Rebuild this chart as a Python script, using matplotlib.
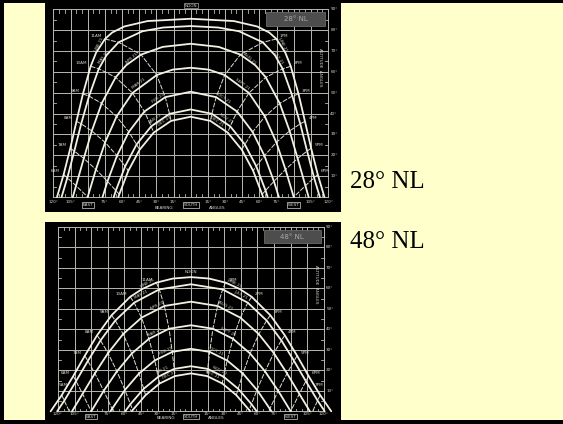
import matplotlib
matplotlib.use('Agg')
import matplotlib.pyplot as plt
import numpy as np
from matplotlib.patches import Rectangle

# date curves, outermost (summer) first
dates_am = ['JUNE 21', 'MAY 21', 'APR 21', 'MAR 21', 'FEB 21', 'JAN 21', 'DEC 21']
dates_pm = ['JUNE 21', 'JULY 21', 'AUG 21', 'SEPT 21', 'OCT 21', 'NOV 21', 'DEC 21']
am_labels = ['NOON', '11AM', '10AM', '9AM', '8AM', '7AM', '6AM', '5AM']
pm_labels = ['NOON', '1PM', '2PM', '3PM', '4PM', '5PM', '6PM', '7PM']

bear_ticks = [-120, -105, -90, -75, -60, -45, -30, -15, 0, 15, 30, 45, 60, 75, 90, 105, 120]
bear_tick_labels = ['120°', '105°', 'EAST', '75°', '60°', '45°', '30°', '15°', 'SOUTH',
                    '15°', '30°', '45°', '60°', '75°', 'WEST', '105°', '120°']
alt_ticks = [10, 20, 30, 40, 50, 60, 70, 80, 90]

# 28 deg NL chart. bearing from south / altitude of the sun
# at every full hour before noon (noon, 11, 10 ... 6AM); afternoon is the mirror
bear_28 = [
    [0, 74.9, 87.4, 94.2, 99.8, 105.2, 111.0],
    [0, 63.0, 80.3, 88.8, 95.7, 101.7, 107.8],
    [0, 43.4, 65.6, 77.8, 86.4, 93.4, 100.2],
    [0, 29.7, 50.9, 64.8, 74.8, 82.8, 90.0],
    [0, 22.2, 40.5, 54.1, 64.4, 72.7, None],
    [0, 18.5, 34.5, 47.3, 57.3, 65.4, None],
    [0, 17.2, 32.3, 44.6, 54.5, 62.4, None],
]
alt_28 = [
    [85.5, 75.8, 62.7, 49.4, 36.3, 23.4, 10.8],
    [82.0, 74.2, 61.5, 48.4, 35.1, 22.0, 9.2],
    [73.5, 68.3, 57.4, 44.9, 31.7, 18.5, 5.4],
    [62.0, 58.5, 49.9, 38.6, 26.2, 13.2, 0.0],
    [50.5, 47.9, 41.0, 31.2, 19.8, 7.5, None],
    [42.0, 39.9, 33.9, 25.2, 14.7, 3.1, None],
    [38.5, 36.5, 30.9, 22.7, 12.6, 1.3, None],
]
rise_28 = [116.8, 112.8, 103.0, 90.0, 77.0, 67.2, 63.2]
# extra points on the flat tops of the summer curves
extra_28 = [
    [(37.7, 84.4), (58.0, 81.8), (68.6, 78.9), (82.6, 69.3)],
    [(24.0, 81.3), (42.2, 79.5), (73.6, 68.0)],
    [(24.5, 72.0), (56.4, 63.2)],
    [(15.7, 61.1)],
    [], [], [],
]
ends_28 = {}

# 48 deg NL chart (noon ... 5AM)
bear_48 = [
    [0, 31.2, 54.8, 71.6, 84.7, 95.8, 106.2, 116.6],
    [0, 28.6, 51.3, 68.3, 81.6, 93.0, 103.7, 114.3],
    [0, 24.0, 44.6, 61.2, 74.8, 86.7, 97.8, None],
    [0, 19.8, 37.9, 53.4, 66.8, 78.7, 90.0, None],
    [0, 16.9, 32.7, 46.9, 59.6, 71.2, None, None],
    [0, 15.1, 29.4, 42.6, 54.6, None, None, None],
    [0, 14.4, 28.2, 40.9, 52.6, None, None, None],
]
alt_48 = [
    [65.5, 62.8, 55.9, 46.9, 37.1, 27.1, 17.2, 7.9],
    [62.0, 59.5, 53.0, 44.3, 34.6, 24.6, 14.7, 5.2],
    [53.5, 51.4, 45.7, 37.7, 28.4, 18.5, 8.5, None],
    [42.0, 40.3, 35.4, 28.2, 19.5, 10.0, 0.0, None],
    [30.5, 29.0, 24.8, 18.4, 10.4, 1.2, None, None],
    [22.0, 20.7, 16.9, 11.0, 3.5, None, None, None],
    [18.5, 17.2, 13.6, 7.9, 0.6, None, None, None],
]
rise_48 = [126.6, 120.7, 107.3, 90.0, 72.7, 59.3, 53.4]
extra_48 = [
    [(16.3, 64.8), (44.0, 59.7)],
    [], [], [], [], [], [],
]
ends_48 = {5: 70.2, 7: 109.8}

grid_c = '#b8b8b0'
curve_c = '#f4f1e4'
text_c = '#d6d6d0'
small = dict(fontsize=3.0, color=text_c, family='DejaVu Sans')


def draw_chart(ax, bear, alt, rise, extra, ends, tag, noon_alt, boxed_noon, lab_y):
    ax.set_facecolor('black')
    for sp in ax.spines.values():
        sp.set_visible(False)
    ax.set_xticks([])
    ax.set_yticks([])

    # grid
    for b in range(-120, 121, 15):
        ax.plot([b, b], [0, 90], color=grid_c, lw=0.7, zorder=1)
    for a in range(0, 91, 10):
        ax.plot([-120, 120], [a, a], color=grid_c, lw=0.7, zorder=1)
    for b in range(-120, 121, 5):
        ax.plot([b, b], [90, 88.3], color=grid_c, lw=0.6)
        ax.plot([b, b], [0, 1.2], color=grid_c, lw=0.6)
    for a in range(5, 90, 10):
        ax.plot([-120, -117.5], [a, a], color=grid_c, lw=0.6)
        ax.plot([120, 117.5], [a, a], color=grid_c, lw=0.6)

    # date curves
    for d in range(len(bear)):
        pts = [(b, a) for b, a in zip(bear[d], alt[d]) if b is not None]
        pts += extra[d] + [(rise[d], 0.0)]
        pts.sort()
        xs = [-p[0] for p in pts[::-1]] + [p[0] for p in pts[1:]]
        ys = [p[1] for p in pts[::-1]] + [p[1] for p in pts[1:]]
        ax.plot(xs, ys, color=curve_c, lw=1.3, zorder=3, solid_capstyle='round')

        # small date names along the curve between 10 and 11, staggered
        p1 = ax.transData.transform((-bear[d][2], alt[d][2]))
        p2 = ax.transData.transform((-bear[d][1], alt[d][1]))
        ang = np.degrees(np.arctan2(p2[1] - p1[1], p2[0] - p1[0]))
        t = 0.3 if d % 2 == 0 else 0.68
        mx = bear[d][1] + t * (bear[d][2] - bear[d][1])
        my = alt[d][1] + t * (alt[d][2] - alt[d][1])
        ax.text(-mx, my + 0.8, dates_am[d], rotation=ang, ha='center', va='bottom',
                rotation_mode='anchor', zorder=4, **small)
        ax.text(mx, my + 0.8, dates_pm[d], rotation=-ang, ha='center', va='bottom',
                rotation_mode='anchor', zorder=4, **small)

    # hour lines
    for h in range(1, len(bear[0])):
        pts = [(bear[d][h], alt[d][h]) for d in range(len(bear)) if bear[d][h] is not None]
        if h in ends:
            pts.append((ends[h], 0.0))
        if len(pts) < 2:
            continue
        xs = [p[0] for p in pts]
        ys = [p[1] for p in pts]
        ax.plot([-x for x in xs], ys, color='#deded8', lw=0.7, ls=(0, (5, 1.5)), zorder=2)
        ax.plot(xs, ys, color='#deded8', lw=0.7, ls=(0, (5, 1.5)), zorder=2)
        if xs[0] > 112:
            # outermost line: label above its top end, clear of the altitude scale
            ax.text(-xs[0] + 1, ys[0] + 5, am_labels[h], ha='center', va='center', **small)
            ax.text(xs[0] - 1, ys[0] + 5, pm_labels[h], ha='center', va='center', **small)
        else:
            ax.text(-xs[0] - 3, ys[0] + 1.5, am_labels[h], ha='right', va='center', **small)
            ax.text(xs[0] + 3, ys[0] + 1.5, pm_labels[h], ha='left', va='center', **small)

    # noon
    if boxed_noon:
        ax.text(0, noon_alt, 'NOON', ha='center', va='center', zorder=5,
                bbox=dict(boxstyle='square,pad=0.15', fc='black', ec=text_c, lw=0.4), **small)
    else:
        ax.text(0, noon_alt, 'NOON', ha='center', va='bottom', zorder=5, **small)

    # bearing labels
    for b, lab in zip(bear_ticks, bear_tick_labels):
        if lab in ('EAST', 'SOUTH', 'WEST'):
            ax.text(b, lab_y[1], lab, ha='center', va='center', zorder=5,
                    bbox=dict(boxstyle='square,pad=0.2', fc='black', ec=text_c, lw=0.5), **small)
        else:
            ax.text(b, lab_y[0], lab, ha='center', va='center', **small)
    ax.text(-23, lab_y[2], 'BEARING', ha='center', va='center', **small)
    ax.text(23, lab_y[2], 'ANGLES', ha='center', va='center', **small)

    # altitude labels
    for a in alt_ticks:
        ax.text(122, a, f'{a}°', ha='left', va='center', **small)
    ax.text(113, 62, 'ALTITUDE  ANGLES', rotation=-90, ha='center', va='center', **small)

    # latitude tag
    ax.add_patch(Rectangle((66, 82.0), 51, 6.6, fc='#4d4d4d', ec='#6a6a6a', lw=0.6, zorder=5))
    ax.text(91.5, 85.3, tag, ha='center', va='center', fontsize=5, color='#a8a8a8', zorder=6)


fig = plt.figure(figsize=(5.63, 4.24), dpi=100)
fig.patch.set_facecolor('#ffffcc')

W, H = 563, 424
ax1 = fig.add_axes([45 / W, 1 - 212 / H, 296 / W, 212 / H])
ax1.set_xlim(-127.3, 131.3)
ax1.set_ylim(-7.2, 94.5)
draw_chart(ax1, bear_28, alt_28, rise_28, extra_28, ends_28, '28° NL', 91.8, True,
           (-2.4, -3.9, -5.3))

ax2 = fig.add_axes([45 / W, 0, 296 / W, 202 / H])
ax2.set_xlim(-131.7, 135.4)
ax2.set_ylim(-6.2, 92.4)
draw_chart(ax2, bear_48, alt_48, rise_48, extra_48, ends_48, '48° NL', 67.0, False,
           (-1.5, -2.6, -3.4))

fig.text(350 / W, 1 - 188 / H, '28° NL', fontsize=18, family='Liberation Serif',
         color='black', ha='left', va='baseline')
fig.text(350 / W, 1 - 248 / H, '48° NL', fontsize=18, family='Liberation Serif',
         color='black', ha='left', va='baseline')

# black frame around the slide
for x0, y0, w, h in [(0, 0, 4, H), (0, 0, W, 3), (0, H - 4, W, 4)]:
    fig.patches.append(Rectangle((x0 / W, 1 - (y0 + h) / H), w / W, h / H,
                                 transform=fig.transFigure, fc='black', ec='none', zorder=10))

fig.savefig('out.png', dpi=100, facecolor=fig.get_facecolor())
